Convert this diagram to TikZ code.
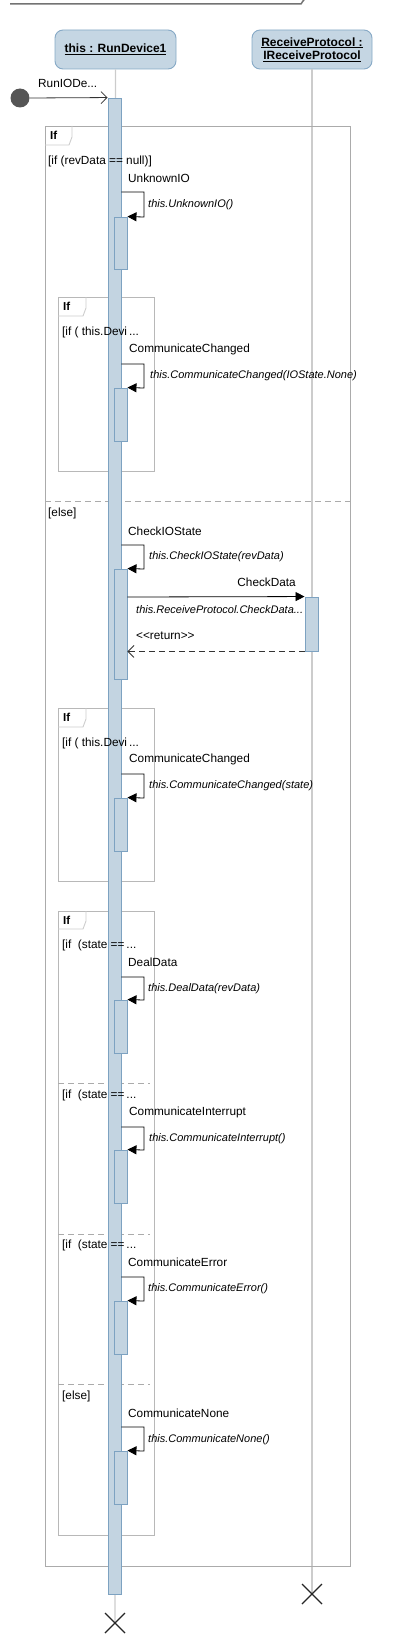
\documentclass[tikz,border=0pt]{standalone}
\usepackage{fontspec}
\setmainfont{Liberation Sans}
\usetikzlibrary{arrows.meta,fit,positioning,calc}
\definecolor{hdrfill}{HTML}{C5D6E3}
\definecolor{hdrdraw}{HTML}{86A9C6}
\definecolor{actfill}{HTML}{C3D4E1}
\definecolor{actdraw}{HTML}{7DA2C1}
\definecolor{frm}{HTML}{ABABAB}
\definecolor{ifrm}{HTML}{B8B8B8}
\definecolor{life}{HTML}{CCCCCC}
\definecolor{dotc}{HTML}{555555}
\tikzset{
  every node/.style={font=\fontsize{11.8}{13}\selectfont},
  hdr/.style={draw=hdrdraw, fill=hdrfill, rounded corners=8pt, line width=0.9pt, inner sep=0pt},
  act/.style={draw=actdraw, fill=actfill, line width=0.9pt, inner sep=0pt},
  lifeln/.style={draw=life, line width=1.2pt},
  frame/.style={draw=frm, line width=0.9pt},
  iframe/.style={draw=ifrm, line width=0.9pt},
  sep/.style={draw=frm, line width=0.9pt, dash pattern=on 6pt off 4pt},
  tabstyle/.style={draw=ifrm!70, line width=0.9pt},
  lbl/.style={anchor=west, inner sep=0pt},
  tablbl/.style={anchor=west, inner sep=0pt, font=\fontsize{11.5}{13}\selectfont\bfseries},
  ilbl/.style={anchor=west, inner sep=0pt, font=\fontsize{11}{13}\selectfont\itshape},
  msg/.style={draw=black, line width=0.8pt, -{Triangle[length=9pt,width=9pt]}},
  found/.style={draw=black!80, line width=0.8pt, -{Straight Barb[length=6pt,width=12pt,line width=0.8pt]}},
  ret/.style={draw=black!80, line width=0.8pt, dash pattern=on 6pt off 4pt, -{Straight Barb[length=6pt,width=12pt,line width=0.8pt]}},
  xmark/.style={draw=black!85, line width=1.3pt},
}
\newcommand{\uline}[1]{\underline{#1}}
\begin{document}
\begin{tikzpicture}[x=1pt,y=-1pt]
\useasboundingbox (0,0) rectangle (415,1640);
% top frame remnant
\draw[draw=black!55, line width=1.5pt] (10,4) -- (301,4) -- (303,1) -- (304,0);

% lifeline headers
\node[hdr, fit={(55,30)(176,69)}] (h1) {};
\node[inner sep=0pt, font=\fontsize{12}{13}\selectfont\bfseries] at (h1.center) {\uline{this : RunDevice1}};
\node[hdr, fit={(252,30)(372,69)}] (h2) {};
\node[align=center, inner sep=0pt, font=\fontsize{12}{13.5}\selectfont\bfseries] at (h2.center) {\uline{ReceiveProtocol :}\\\uline{IReceiveProtocol}};

% lifelines
\coordinate (x1) at (115,1623);
\coordinate (x2) at (312,1594);
\draw[lifeln] (h1.south) -- (x1);
\draw[lifeln] (h2.south) -- (x2);

% frames
\node[frame, fit={(45,126)(350,1566)}, inner sep=0pt] (F0) {};
\draw[tabstyle] (45,145) -- (69,145) -- (72,137) -- (72,126);
\coordinate (s0l) at (45,501); \coordinate (s0r) at (350,501);
\draw[sep] (s0l) -- (s0r);

\node[iframe, fit={(58,297)(154,471)}, inner sep=0pt] (F1) {};
\draw[tabstyle] (58,316) -- (83,316) -- (86,308) -- (86,297);

\node[iframe, fit={(58,708)(154,881)}, inner sep=0pt] (F2) {};
\draw[tabstyle] (58,727) -- (83,727) -- (86,719) -- (86,708);

\node[iframe, fit={(58,911)(154,1535)}, inner sep=0pt] (F3) {};
\draw[tabstyle] (58,929) -- (83,929) -- (86,921) -- (86,911);
\coordinate (s1l) at (58,1083); \coordinate (s1r) at (150,1083);
\draw[sep] (s1l) -- (s1r);
\coordinate (s2l) at (58,1234); \coordinate (s2r) at (150,1234);
\draw[sep] (s2l) -- (s2r);
\coordinate (s3l) at (58,1384); \coordinate (s3r) at (150,1384);
\draw[sep] (s3l) -- (s3r);

% main activation
\node[act, fit={(108,98)(121,1594)}] (A) {};

% frame texts (over the activation)
\node[tablbl] at (50,135) {If};
\node[lbl] at (48,161) {[if (revData == null)]};
\node[lbl] at (48,513) {[else]};
\node[tablbl] at (63,306) {If};
\node[lbl] at (62,332) {[if ( this.Devi\,...};
\node[tablbl] at (63,717) {If};
\node[lbl] at (62,743) {[if ( this.Devi\,...};
\node[tablbl] at (63,920) {If};
\node[lbl] at (62,945) {[if \ (state ==\,...};
\node[lbl] at (62,1095) {[if \ (state ==\,...};
\node[lbl] at (62,1245) {[if \ (state ==\,...};
\node[lbl] at (62,1396) {[else]};

% found message
\node[circle, fill=dotc, minimum size=19pt, inner sep=0pt] (start) at (20,98) {};
\draw[found] (start.east) -- (A.north west);
\node[lbl] at (38,83) {RunIODe...};

% self messages
\node[act, fit={(114,217)(127,269)}] (a1) {};
\draw[msg] (A.east |- 0,192) -- (144,192) -- (144,217) -- (a1.north east);
\node[lbl] at (128,178) {UnknownIO};
\node[ilbl] at (148,205) {this.UnknownIO()};

\node[act, fit={(114,388)(127,441)}] (a2) {};
\draw[msg] (A.east |- 0,364) -- (144,364) -- (144,388) -- (a2.north east);
\node[lbl] at (129,349) {CommunicateChanged};
\node[ilbl] at (150,376) {this.CommunicateChanged(IOState.None)};

\node[act, fit={(114,569)(127,679)}] (a3) {};
\draw[msg] (A.east |- 0,545) -- (144,545) -- (144,569) -- (a3.north east);
\node[lbl] at (128,531) {CheckIOState};
\node[ilbl] at (149,557) {this.CheckIOState(revData)};

\node[act, fit={(305,597)(318,651)}] (b1) {};
\draw[msg] (a3.east |- 0,597) -- (b1.north west);
\node[anchor=east, inner sep=0pt] at (296,582) {CheckData};
\node[ilbl] at (136,610) {this.ReceiveProtocol.CheckData...};
\draw[ret] (b1.south west) -- (a3.east |- b1.south west);
\node[lbl] at (136,636) {<{}<return>{}>};

\node[act, fit={(114,798)(127,851)}] (a4) {};
\draw[msg] (A.east |- 0,774) -- (144,774) -- (144,798) -- (a4.north east);
\node[lbl] at (129,759) {CommunicateChanged};
\node[ilbl] at (149,786) {this.CommunicateChanged(state)};

\node[act, fit={(114,1000)(127,1053)}] (a5) {};
\draw[msg] (A.east |- 0,977) -- (144,977) -- (144,1000) -- (a5.north east);
\node[lbl] at (128,962) {DealData};
\node[ilbl] at (148,989) {this.DealData(revData)};

\node[act, fit={(114,1150)(127,1203)}] (a6) {};
\draw[msg] (A.east |- 0,1127) -- (144,1127) -- (144,1150) -- (a6.north east);
\node[lbl] at (129,1112) {CommunicateInterrupt};
\node[ilbl] at (149,1139) {this.CommunicateInterrupt()};

\node[act, fit={(114,1301)(127,1354)}] (a7) {};
\draw[msg] (A.east |- 0,1277) -- (144,1277) -- (144,1301) -- (a7.north east);
\node[lbl] at (128,1262) {CommunicateError};
\node[ilbl] at (148,1289) {this.CommunicateError()};

\node[act, fit={(114,1451)(127,1504)}] (a8) {};
\draw[msg] (A.east |- 0,1427) -- (144,1427) -- (144,1451) -- (a8.north east);
\node[lbl] at (128,1413) {CommunicateNone};
\node[ilbl] at (148,1440) {this.CommunicateNone()};

% destruction marks
\draw[xmark] ($(x1)+(-10,-10)$) -- ($(x1)+(10,10)$) ($(x1)+(-10,10)$) -- ($(x1)+(10,-10)$);
\draw[xmark] ($(x2)+(-10,-10)$) -- ($(x2)+(10,10)$) ($(x2)+(-10,10)$) -- ($(x2)+(10,-10)$);
\end{tikzpicture}
\end{document}
